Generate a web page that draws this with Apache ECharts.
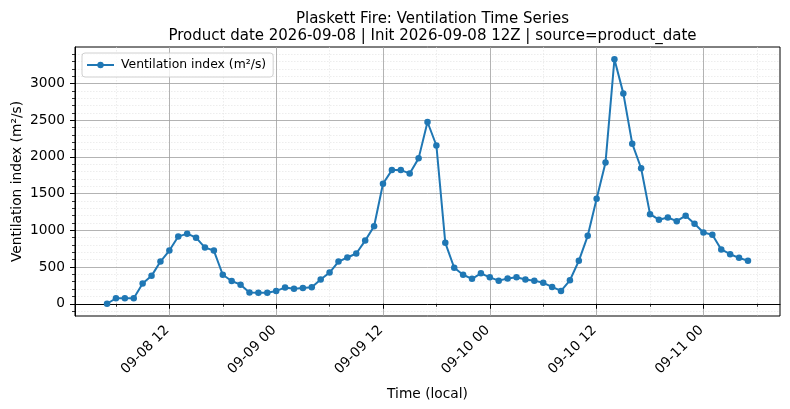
<!DOCTYPE html>
<html>
<head>
<meta charset="utf-8">
<script src="https://cdn.jsdelivr.net/npm/echarts@6/dist/echarts.min.js"></script>
<style>
html,body{margin:0;padding:0;background:#fff;}
#chart{width:790px;height:409px;}
</style>
</head>
<body>
<div id="chart"></div>
<script>
// Hours since 2026-09-08 00:00 local
var hours = [5,6,7,8,9,10,11,12,13,14,15,16,17,18,19,20,21,22,23,24,25,26,27,28,29,30,31,32,33,34,35,36,37,38,39,40,41,42,43,44,45,46,47,48,49,50,51,52,53,54,55,56,57,58,59,60,61,62,63,64,65,66,67,68,69,70,71,72,73,74,75,76,77];
var ventilation = [0,75,75,75,275,380,575,725,915,955,900,765,725,395,310,260,155,150,150,175,220,205,215,225,330,425,575,630,685,860,1055,1635,1820,1820,1775,1980,2475,2155,830,490,395,340,415,360,315,345,360,330,315,285,230,175,320,585,925,1430,1925,3330,2865,2180,1845,1220,1145,1175,1125,1200,1090,970,940,740,675,625,585];
var xMajorTicks = [12,24,36,48,60,72];
var xTickLabels = ['09-08 12','09-09 00','09-09 12','09-10 00','09-10 12','09-11 00'];
var xMinorTicks = [6,18,30,42,54,66,78];
var yMajorTicks = [0,500,1000,1500,2000,2500,3000];
var yMinorTicks = [-100,100,200,300,400,600,700,800,900,1100,1200,1300,1400,1600,1700,1800,1900,2100,2200,2300,2400,2600,2700,2800,2900,3100,3200,3300,3400];

var FONT = 'DejaVu Sans';
var xMin = 1.4, xMax = 80.6;
var vMin = Math.min.apply(null, ventilation), vMax = Math.max.apply(null, ventilation);
var yMin = vMin - 0.05 * (vMax - vMin), yMax = vMax + 0.05 * (vMax - vMin);

var labelMap = {};
xMajorTicks.forEach(function (h, i) { labelMap[h] = xTickLabels[i]; });

var chart = echarts.init(document.getElementById('chart'), null, {renderer: 'canvas'});
chart.setOption({
  animation: false,
  backgroundColor: '#fff',
  title: {
    text: 'Plaskett Fire: Ventilation Time Series\nProduct date 2026-09-08 | Init 2026-09-08 12Z | source=product_date',
    left: 427.5, top: 5, textAlign: 'center',
    textStyle: {fontFamily: FONT, fontSize: 15, fontWeight: 'normal', color: '#000', lineHeight: 17.5}
  },
  legend: {
    left: 82, top: 53,
    padding: [6, 7, 6, 4],
    itemWidth: 27, itemHeight: 8, itemGap: 8,
    backgroundColor: 'rgba(255,255,255,0.8)',
    borderColor: '#d0d0d0', borderWidth: 1, borderRadius: 3,
    textStyle: {fontFamily: FONT, fontSize: 12.4, color: '#000', padding: [0, 0, 0, 2]},
    data: ['Ventilation index (m²/s)']
  },
  grid: {left: 75, top: 47, width: 705, height: 269, outerBoundsMode: 'none', containLabel: false,
    show: true, borderColor: '#000', borderWidth: 1, backgroundColor: 'transparent'},
  xAxis: [
    {
      type: 'value', min: xMin, max: xMax,
      name: 'Time (local)', nameLocation: 'middle', nameGap: 71, nameMoveOverlap: false,
      nameTextStyle: {fontFamily: FONT, fontSize: 13.75, color: '#000'},
      axisLine: {show: true, lineStyle: {color: '#000', width: 1}},
      axisTick: {show: true, customValues: xMajorTicks, length: 5, lineStyle: {color: '#000', width: 1}},
      axisLabel: {show: true, customValues: xMajorTicks, rotate: 45, margin: 10, padding: [10, 3, 0, 0],
        fontFamily: FONT, fontSize: 13.75, color: '#000',
        formatter: function (v) { return labelMap[Math.round(v)] || ''; }},
      splitLine: {show: true, lineStyle: {color: '#a0a0a0', width: 0.8}},
      z: 3
    },
    {
      type: 'value', min: xMin, max: xMax, position: 'bottom',
      axisLine: {show: false},
      axisTick: {show: true, customValues: xMinorTicks, length: 3, lineStyle: {color: '#000', width: 0.8}},
      axisLabel: {show: false, customValues: xMinorTicks},
      splitLine: {show: true, lineStyle: {color: '#e0e0e0', width: 0.6, type: [1.5, 1.5]}},
      z: 1
    }
  ],
  yAxis: [
    {
      type: 'value', min: yMin, max: yMax,
      name: 'Ventilation index (m²/s)', nameLocation: 'middle', nameGap: 51, nameMoveOverlap: false,
      nameTextStyle: {fontFamily: FONT, fontSize: 13.75, color: '#000'},
      axisLine: {show: true, lineStyle: {color: '#000', width: 1}},
      axisTick: {show: true, customValues: yMajorTicks, length: 5, lineStyle: {color: '#000', width: 1}},
      axisLabel: {show: true, customValues: yMajorTicks, margin: 10, fontFamily: FONT, fontSize: 13.75, color: '#000',
        formatter: function (v) { return String(Math.round(v)); }},
      splitLine: {show: true, lineStyle: {color: '#a0a0a0', width: 0.8}},
      z: 3
    },
    {
      type: 'value', min: yMin, max: yMax, position: 'left',
      axisLine: {show: false},
      axisTick: {show: true, customValues: yMinorTicks, length: 3, lineStyle: {color: '#000', width: 0.8}},
      axisLabel: {show: false, customValues: yMinorTicks},
      splitLine: {show: true, lineStyle: {color: '#e0e0e0', width: 0.6, type: [1.5, 1.5]}},
      z: 1
    }
  ],
  series: [{
    name: 'Ventilation index (m²/s)',
    type: 'line',
    xAxisIndex: 0, yAxisIndex: 0,
    data: hours.map(function (h, i) { return [h, ventilation[i]]; }),
    symbol: 'circle', symbolSize: 6.5,
    lineStyle: {color: '#1f77b4', width: 2},
    itemStyle: {color: '#1f77b4'},
    z: 5
  }]
});
</script>
</body>
</html>
